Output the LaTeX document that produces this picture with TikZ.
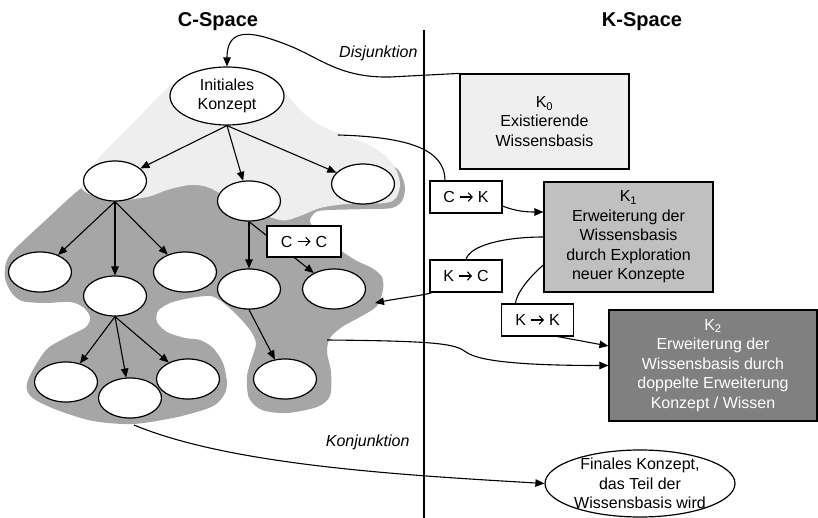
\documentclass[tikz,border=0pt]{standalone}
\usepackage{fontspec}
\setmainfont{Liberation Sans}
\usetikzlibrary{shapes.geometric,arrows.meta,calc}

\definecolor{lightzone}{HTML}{EEEEEE}
\definecolor{darkzone}{HTML}{A6A6A6}
\definecolor{kzero}{HTML}{EFEFEF}
\definecolor{kone}{HTML}{C0C0C0}
\definecolor{ktwo}{HTML}{808080}

% arrow sign used inside the operator boxes
\newcommand{\oparrow}{\tikz[baseline=0pt]\draw[line width=1.1pt,
  -{Straight Barb[length=4pt,width=8.5pt]}] (0pt,5.5pt) -- (13pt,5.5pt);}

\begin{document}
\begin{tikzpicture}[x=1pt,y=-1pt,
  every node/.style={font=\fontsize{16}{19.5}\selectfont},
  concept/.style={ellipse, draw, fill=white, line width=1.2pt, inner sep=0pt,
    minimum width=63pt, minimum height=40pt, align=center},
  kbox/.style={rectangle, draw, line width=1.2pt, inner sep=0pt, align=center},
  opbox/.style={rectangle, draw, fill=white, line width=1.1pt, inner sep=0pt,
    minimum width=72pt, minimum height=32pt},
  link/.style={line width=1.1pt},
  arr/.style={link, -{Triangle[length=9pt,width=7.5pt]}},
  title/.style={font=\fontsize{20}{24}\selectfont\bfseries},
  tag/.style={font=\fontsize{16}{19.5}\selectfont\itshape}
]
\useasboundingbox (0,0) rectangle (818,518);

% concept space: explored (dark) and initial (light) zones
\fill[darkzone] plot[smooth cycle, tension=0.5] coordinates {
  (83,187) (48,218) (14,250) (6,263) (5,278) (11,292) (22,301) (45,303)
  (70,302) (83,307) (90,317) (86,327) (67,337) (48,348) (37,363) (28,380)
  (27,390) (34,399) (57,410) (93,421) (133,424) (173,418) (200,411)
  (215,405) (224,395) (227,383) (223,363) (213,348) (200,340) (185,338)
  (167,332) (157,322) (158,311) (170,303) (190,298) (210,296) (221,301)
  (236,314) (250,330) (256,343) (252,358) (247,376) (249,398) (262,410)
  (287,413) (317,407) (330,396) (331,372) (327,352) (330,338) (342,327)
  (360,317) (377,306) (383,290) (382,277) (372,268) (357,261) (340,250)
  (322,236) (310,222) (316,212) (330,210) (370,209) (392,208) (402,201)
  (405,188) (401,174) (393,166) (360,150) (300,150) (230,160) (150,172)
  (110,178)};
\fill[lightzone] plot[smooth cycle, tension=0.5] coordinates {
  (175,82) (205,78) (250,78) (283,92) (300,110) (318,124) (340,134)
  (367,144) (387,157) (397,172) (400,185) (396,198) (385,203) (347,204)
  (320,208) (300,216) (280,220) (240,205) (210,188) (190,185) (167,190)
  (147,197) (110,201) (87,193) (82,185) (97,160) (136,120)};

% titles and divider
\node[title, anchor=base] (cspace) at (218,27) {C-Space};
\node[title, anchor=base] (kspace) at (642,27) {K-Space};
\coordinate (divtop) at (424,30);
\coordinate (divbot) at (424,518);
\draw[line width=2.6pt] (divtop) -- (divbot);

% concept tree
\node[concept, minimum width=114pt, minimum height=58pt] (init) at (227,96) {Initiales\\Konzept};
\node[concept] (c1) at (115,181) {};
\node[concept] (c2) at (249,201) {};
\node[concept] (c3) at (363,184) {};
\node[concept] (c11) at (40,272) {};
\node[concept] (c12) at (115,296) {};
\node[concept] (c13) at (185,272) {};
\node[concept] (c21) at (249,289) {};
\node[concept] (c22) at (334,289) {};
\node[concept] (c211) at (285,379) {};
\node[concept] (c121) at (66,382) {};
\node[concept] (c122) at (130,398) {};
\node[concept] (c123) at (188,379) {};

\foreach \child in {c1,c2,c3} \draw[arr] (init.south) -- (\child);
\foreach \child in {c11,c12,c13} \draw[arr] (c1.south) -- (\child);
\foreach \child in {c21,c22} \draw[arr] (c2.south) -- (\child);
\draw[arr] (c21.south) -- (c211);
\foreach \child in {c121,c122,c123} \draw[arr] (c12.south) -- (\child);

% knowledge space
\node[kbox, fill=kzero, minimum width=169pt, minimum height=95pt] (K0) at (544.5,121.5)
  {K\textsubscript{0}\\Existierende\\Wissensbasis};
\node[kbox, fill=kone, minimum width=169pt, minimum height=110pt] (K1) at (628.5,237)
  {K\textsubscript{1}\\Erweiterung der\\Wissensbasis\\durch Exploration\\neuer Konzepte};
\node[kbox, fill=ktwo, text=white, minimum width=208pt, minimum height=111pt] (K2) at (713,365.5)
  {K\textsubscript{2}\\Erweiterung der\\Wissensbasis durch\\doppelte Erweiterung\\Konzept / Wissen};
\node[ellipse, draw, fill=white, line width=1.2pt, inner xsep=0pt, inner ysep=-5pt,
  minimum width=190pt, minimum height=67pt, align=center] (final) at (640,483.5)
  {Finales Konzept,\\das Teil der\\Wissensbasis wird};

% operators
\node[opbox, minimum width=74pt, minimum height=31pt] (cc) at (304,241.5) {C \oparrow{} C};
\node[opbox] (ck) at (466,197) {C \oparrow{} K};
\node[opbox] (kc) at (466,276) {K \oparrow{} C};
\node[opbox] (kk) at (537.5,320) {K \oparrow{} K};

% free ends on the concept zones
\coordinate (ckfrom) at (338,135);
\coordinate (kctip) at (375,303);
\coordinate (k2from) at (327,340);
\coordinate (konfrom) at (134,425);

% connectors between the spaces
\draw[arr] (K0.north west) -- (390,77) .. controls (340,78) and (320,58) .. (290,46)
  .. controls (255,32) and (227,25) .. (init.north);
\draw[link] (ckfrom) .. controls (410,137) and (445,150) .. ($(ck.north)+(-21,0)$);
\draw[arr] ($(ck.east)+(0,9)$) .. controls (515,211) and (525,212) .. ($(K1.west)+(0,-25)$);
\draw[link] (K1.west) .. controls (505,237) and (470,245) .. (kc.north);
\draw[arr] ($(kc.south west)+(3,0)$) .. controls (420,296) and (400,298) .. (kctip);
\draw[link] ($(K1.west)+(0,28)$) .. controls (535,272) and (517,290) .. ($(kk.north)+(-22,0)$);
\draw[arr] ($(kk.south)+(20,0)$) -- ($(K2.west)+(0,-19.5)$);
\draw[arr] (k2from) .. controls (440,341) and (455,344) .. (466,352)
  .. controls (478,361) and (520,365.5) .. (K2.west);
\draw[arr] (konfrom) .. controls (230,465) and (400,475) .. (final.west);

% labels
\node[tag, anchor=base east] (disj) at (421,58) {Disjunktion};
\node[tag, anchor=base east] (konj) at (413,446) {Konjunktion};
\end{tikzpicture}
\end{document}
